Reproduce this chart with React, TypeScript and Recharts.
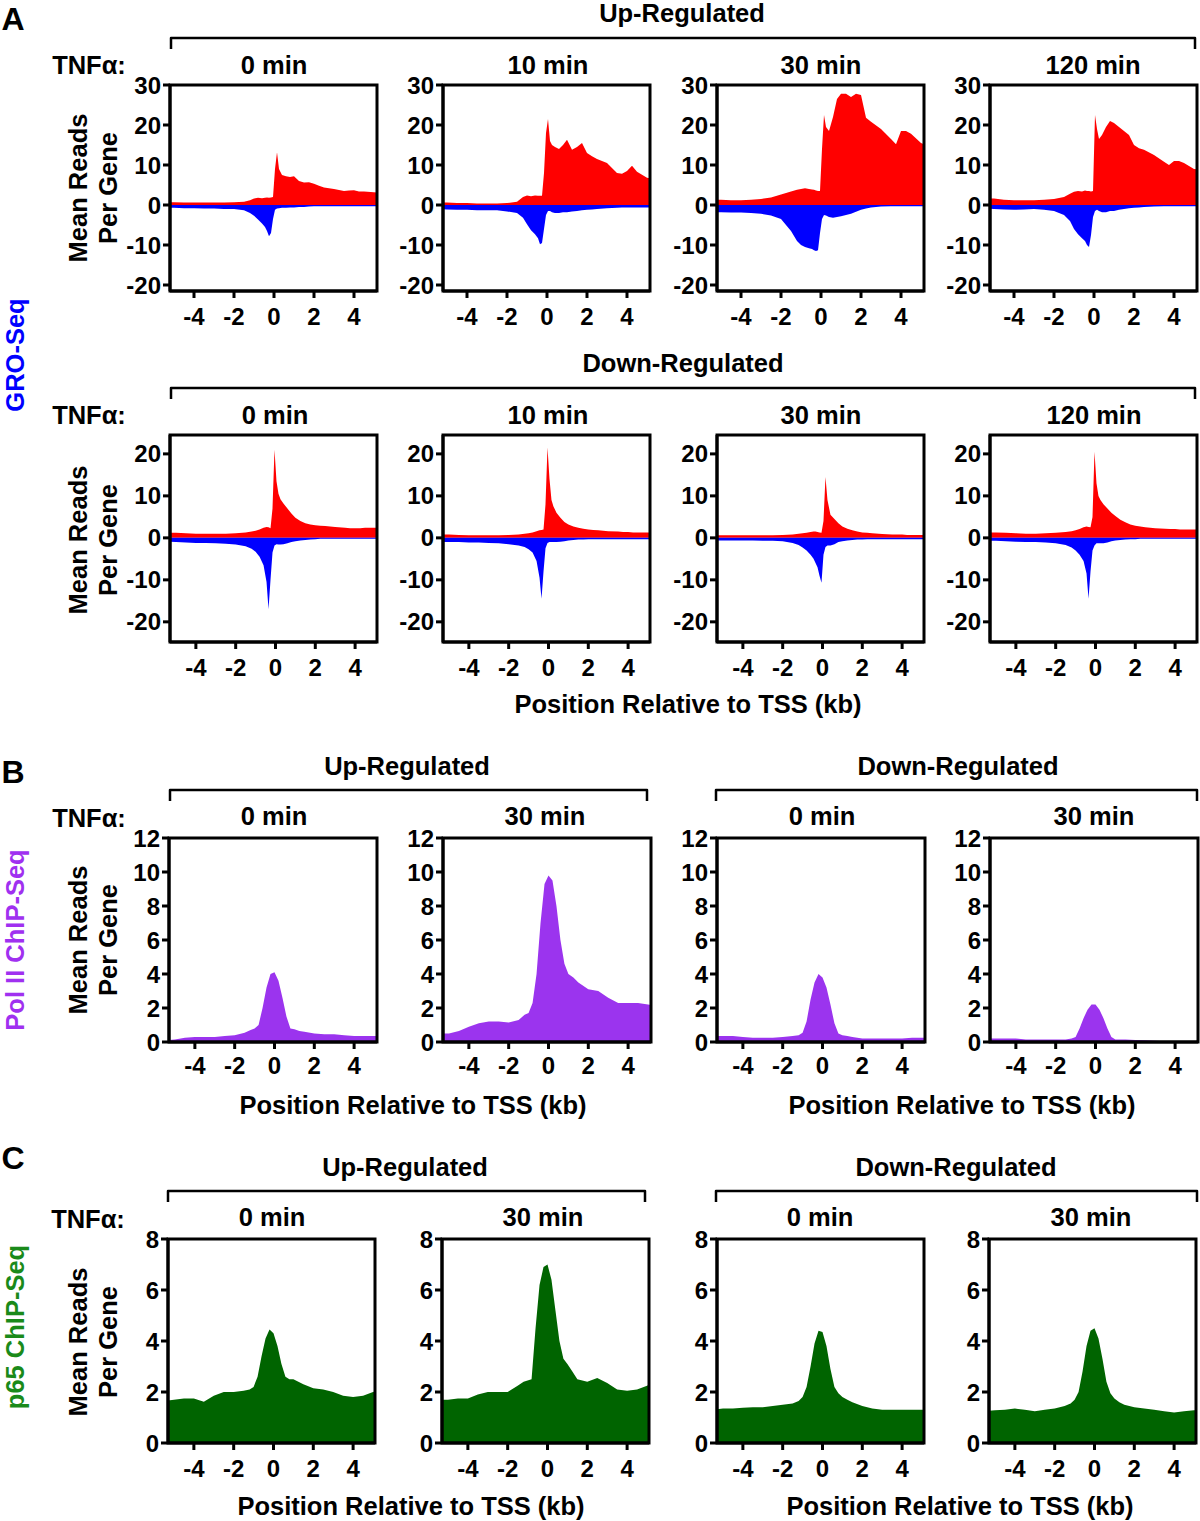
import React from "react";
import { AreaChart, Area, XAxis, YAxis, ReferenceArea } from "recharts";

const FONT = '"Liberation Sans", Arial, Helvetica, sans-serif';

const X_TICKS = [-4, -2, 0, 2, 4];
const GRO_UP_TICKS = [-20, -10, 0, 10, 20, 30];
const GRO_DOWN_TICKS = [-20, -10, 0, 10, 20];
const POL_TICKS = [0, 2, 4, 6, 8, 10, 12];
const P65_TICKS = [0, 2, 4, 6, 8];

// GRO-Seq bins (kb from TSS)
const GRO_X = [-5.5, -5, -4.5, -4, -3.5, -3, -2.5, -2, -1.5, -1.2, -1, -0.8, -0.6, -0.45, -0.35, -0.25, -0.15, -0.05, 0.05, 0.15, 0.25, 0.4, 0.6, 0.8, 1, 1.25, 1.5, 1.75, 2, 2.25, 2.5, 3, 3.5, 3.75, 4, 4.25, 4.5, 5, 5.5];

// up-regulated genes, sense (+) and antisense (-)
const UP_0_SENSE = [0.7, 0.7, 0.6, 0.6, 0.6, 0.6, 0.6, 0.7, 0.8, 1.2, 1.6, 1.8, 1.7, 1.8, 1.9, 1.8, 1.9, 2.0, 9, 13.2, 9, 7.5, 7.2, 7.0, 7.2, 6.0, 5.6, 5.7, 5.3, 4.8, 4.4, 4.0, 3.5, 3.6, 3.7, 3.4, 3.4, 3.2, 2.9];
const UP_0_ANTI = [-0.6, -0.7, -0.8, -0.8, -0.9, -0.9, -1.0, -1.0, -1.3, -2.0, -2.7, -3.6, -4.6, -5.5, -6.5, -7.8, -7.0, -3.5, -1.2, -0.9, -0.8, -0.7, -0.7, -0.6, -0.6, -0.5, -0.5, -0.4, -0.3, -0.3, -0.3, -0.3, -0.3, -0.3, -0.3, -0.3, -0.3, -0.3, -0.3];
const UP_10_SENSE = [0.6, 0.6, 0.5, 0.5, 0.4, 0.4, 0.4, 0.5, 0.8, 2.0, 2.4, 2.2, 2.4, 2.3, 2.3, 2.3, 8, 18, 21.5, 16, 15, 14.5, 14.0, 15.0, 16.3, 13.8, 14.5, 15.5, 13, 12.2, 11.5, 10.5, 8.0, 7.8, 8.5, 9.8, 8.3, 6.8, 6.4];
const UP_10_ANTI = [-1.0, -1.1, -1.2, -1.2, -1.3, -1.3, -1.3, -1.6, -2.0, -3.2, -4.8, -6.3, -7.3, -8.3, -9.8, -9.5, -6.0, -2.5, -1.5, -1.5, -1.8, -2.0, -2.0, -1.8, -1.8, -1.6, -1.5, -1.3, -1.2, -1.1, -1.0, -0.8, -0.7, -0.6, -0.6, -0.6, -0.6, -0.6, -0.6];
const UP_30_SENSE = [1.3, 1.3, 1.2, 1.2, 1.3, 1.5, 1.9, 2.6, 3.4, 3.8, 4.0, 4.2, 4.0, 3.9, 3.8, 3.6, 3.5, 3.5, 14, 22.5, 19.5, 18.5, 22, 26.5, 27.8, 27.8, 27.0, 27.8, 27.5, 21.8, 20.8, 19.0, 16.5, 15.2, 18.5, 18.5, 17.8, 15.5, 14.5];
const UP_30_ANTI = [-1.8, -1.8, -1.9, -1.9, -2.0, -2.2, -2.6, -3.5, -6.5, -9.0, -10.0, -10.5, -10.8, -11.0, -11.3, -11.5, -11.3, -7, -3.5, -2.5, -2.6, -3.0, -3.2, -3.0, -2.8, -2.5, -2.2, -1.7, -1.2, -0.9, -0.6, -0.4, -0.3, -0.3, -0.3, -0.3, -0.3, -0.3, -0.3];
const UP_120_SENSE = [1.6, 1.6, 1.3, 1.2, 1.2, 1.2, 1.3, 1.5, 2.0, 2.8, 3.3, 3.5, 3.4, 3.6, 3.5, 3.5, 3.4, 3.5, 22.5, 19, 16.5, 17.5, 19.5, 21.0, 20.5, 19.5, 18.5, 17.5, 15.0, 14.2, 13.8, 12.5, 10.8, 10.0, 11.0, 11.0, 10.5, 9.0, 8.7];
const UP_120_ANTI = [-0.9, -1.0, -1.1, -1.2, -1.1, -1.0, -1.2, -1.5, -2.5, -4.0, -6.0, -7.3, -8.3, -9.0, -10.0, -10.5, -7.5, -3.0, -1.5, -1.2, -1.5, -1.8, -1.8, -1.5, -1.5, -1.2, -1.0, -0.8, -0.7, -0.6, -0.5, -0.4, -0.3, -0.3, -0.3, -0.3, -0.3, -0.3, -0.3];

// down-regulated genes
const DOWN_0_SENSE = [1.2, 1.2, 1.1, 1.0, 1.0, 1.0, 1.0, 1.1, 1.3, 1.5, 1.7, 2.0, 2.4, 2.6, 2.5, 2.3, 7, 21, 13.5, 10.5, 9.2, 8.2, 7.0, 5.8, 4.8, 4.0, 3.5, 3.2, 3.0, 2.9, 2.8, 2.6, 2.4, 2.3, 2.3, 2.3, 2.4, 2.4, 2.4];
const DOWN_0_ANTI = [-0.9, -1.0, -1.1, -1.2, -1.2, -1.3, -1.4, -1.6, -2.0, -2.6, -3.3, -4.5, -6.5, -10.5, -17, -10, -3.5, -1.8, -1.5, -1.6, -1.6, -1.5, -1.3, -1.0, -0.8, -0.6, -0.5, -0.4, -0.3, -0.2, -0.2, -0.2, -0.2, -0.2, -0.2, -0.2, -0.2, -0.2, -0.2];
const DOWN_10_SENSE = [0.8, 0.8, 0.7, 0.6, 0.6, 0.6, 0.6, 0.7, 0.8, 1.0, 1.1, 1.3, 1.6, 1.8, 1.9, 2.0, 8, 21.5, 14, 9, 7.5, 6.0, 4.8, 3.8, 3.2, 2.7, 2.4, 2.2, 2.0, 1.9, 1.8, 1.6, 1.5, 1.4, 1.4, 1.3, 1.3, 1.3, 1.3];
const DOWN_10_ANTI = [-1.0, -1.0, -1.0, -1.1, -1.1, -1.2, -1.3, -1.5, -1.8, -2.2, -2.7, -3.5, -5.5, -9.5, -14.5, -8, -2.5, -1.2, -1.0, -1.0, -1.0, -1.0, -0.9, -0.8, -0.6, -0.5, -0.4, -0.4, -0.3, -0.3, -0.3, -0.3, -0.3, -0.3, -0.3, -0.3, -0.3, -0.3, -0.3];
const DOWN_30_SENSE = [0.6, 0.6, 0.6, 0.6, 0.6, 0.6, 0.6, 0.7, 0.8, 1.0, 1.1, 1.2, 1.4, 1.5, 1.5, 1.4, 1.3, 1.2, 4, 14.5, 9, 5.5, 4.5, 3.5, 2.7, 2.2, 1.8, 1.5, 1.3, 1.2, 1.1, 0.9, 0.8, 0.8, 0.8, 0.7, 0.7, 0.7, 0.7];
const DOWN_30_ANTI = [-0.6, -0.6, -0.6, -0.6, -0.6, -0.7, -0.7, -0.8, -1.2, -1.7, -2.3, -3.0, -4.0, -5.0, -6.0, -7.0, -9.0, -10.7, -4.0, -2.2, -1.8, -1.8, -1.5, -1.0, -0.8, -0.6, -0.5, -0.4, -0.4, -0.3, -0.3, -0.3, -0.3, -0.3, -0.3, -0.3, -0.3, -0.3, -0.3];
const DOWN_120_SENSE = [1.3, 1.3, 1.2, 1.1, 1.0, 1.0, 1.1, 1.2, 1.4, 1.6, 1.8, 2.1, 2.5, 2.7, 2.6, 2.5, 5, 20.5, 13, 10, 9.0, 8.0, 7.0, 6.0, 5.2, 4.3, 3.7, 3.2, 2.9, 2.7, 2.5, 2.3, 2.2, 2.1, 2.1, 2.0, 2.0, 2.0, 2.0];
const DOWN_120_ANTI = [-0.7, -0.7, -0.8, -0.9, -1.0, -1.0, -1.1, -1.3, -1.7, -2.3, -3.0, -4.0, -5.5, -8.5, -14.5, -8, -3, -1.8, -1.3, -1.3, -1.3, -1.3, -1.1, -0.8, -0.6, -0.5, -0.4, -0.3, -0.3, -0.2, -0.2, -0.2, -0.2, -0.2, -0.2, -0.2, -0.2, -0.2, -0.2];

// ChIP-Seq bins (kb from TSS)
const CHIP_X = [-5.5, -5, -4.5, -4, -3.5, -3, -2.5, -2, -1.5, -1.2, -1, -0.8, -0.6, -0.4, -0.2, 0, 0.2, 0.4, 0.6, 0.8, 1, 1.25, 1.5, 2, 2.5, 3, 3.5, 4, 4.5, 5, 5.5];

const POL_UP_0 = [0.1, 0.15, 0.25, 0.3, 0.3, 0.3, 0.35, 0.4, 0.55, 0.7, 0.8, 1.0, 2.0, 3.2, 4.0, 4.1, 3.6, 2.6, 1.5, 0.8, 0.75, 0.65, 0.6, 0.5, 0.45, 0.45, 0.4, 0.35, 0.35, 0.35, 0.35];
const POL_UP_30 = [0.5, 0.5, 0.65, 0.9, 1.1, 1.2, 1.2, 1.15, 1.3, 1.6, 1.7, 2.3, 4.0, 7.0, 9.3, 9.8, 9.5, 8.0, 6.0, 4.6, 4.0, 3.8, 3.5, 3.1, 3.0, 2.6, 2.3, 2.3, 2.3, 2.2, 2.1];
const POL_DOWN_0 = [0.35, 0.35, 0.35, 0.3, 0.25, 0.25, 0.25, 0.3, 0.35, 0.4, 0.55, 1.2, 2.5, 3.5, 4.0, 3.8, 3.2, 2.2, 1.1, 0.5, 0.4, 0.35, 0.3, 0.2, 0.2, 0.2, 0.2, 0.2, 0.25, 0.25, 0.25];
const POL_DOWN_30 = [0.2, 0.2, 0.2, 0.2, 0.15, 0.15, 0.15, 0.15, 0.15, 0.2, 0.3, 0.8, 1.4, 1.9, 2.2, 2.2, 1.9, 1.4, 0.8, 0.3, 0.15, 0.15, 0.15, 0.12, 0.1, 0.08, 0.05, 0.05, 0.05, 0.05, 0.05];

const P65_UP_0 = [1.65, 1.7, 1.75, 1.75, 1.62, 1.85, 2.0, 2.0, 2.05, 2.1, 2.2, 2.6, 3.4, 4.1, 4.45, 4.3, 3.8, 3.1, 2.6, 2.5, 2.5, 2.4, 2.3, 2.15, 2.1, 2.0, 1.85, 1.8, 1.85, 2.0, 2.1];
const P65_UP_30 = [1.7, 1.7, 1.75, 1.75, 1.9, 2.0, 2.0, 2.0, 2.25, 2.4, 2.45, 2.5, 4.5, 6.2, 6.9, 7.0, 6.4, 5.2, 4.0, 3.3, 3.1, 2.8, 2.5, 2.4, 2.55, 2.35, 2.1, 2.05, 2.1, 2.25, 2.4];
const P65_DOWN_0 = [1.3, 1.35, 1.35, 1.38, 1.4, 1.4, 1.45, 1.5, 1.55, 1.65, 1.8, 2.2, 3.0, 3.9, 4.4, 4.35, 3.8, 2.9, 2.2, 1.95, 1.8, 1.7, 1.6, 1.45, 1.35, 1.3, 1.3, 1.3, 1.3, 1.3, 1.3];
const P65_DOWN_30 = [1.25, 1.28, 1.3, 1.35, 1.3, 1.25, 1.3, 1.35, 1.45, 1.55, 1.7, 2.0, 2.8, 3.8, 4.4, 4.5, 4.1, 3.3, 2.4, 1.95, 1.75, 1.6, 1.5, 1.4, 1.35, 1.3, 1.25, 1.2, 1.25, 1.28, 1.3];

const RED = "#ff0000";
const BLUE = "#0000ff";
const PURPLE = "#9b34ee";
const GREEN = "#006400";

const groRows = (sense: number[], anti: number[]) =>
  GRO_X.map((x, i) => ({ x, s: sense[i], a: anti[i] }));
const chipRows = (vals: number[]) => CHIP_X.map((x, i) => ({ x, s: vals[i] }));

type PlotProps = {
  left: number;
  top: number;
  w: number;
  h: number;
  data: { x: number; s: number; a?: number }[];
  fills: string[];
  xDomain: [number, number];
  yDomain: [number, number];
  yTicks: number[];
  xTickMargin: number;
};

const tickStyle = { fill: "#000", fontSize: 24, fontWeight: 700, fontFamily: FONT };
const blackLine = { stroke: "#000", strokeWidth: 3 };

function Plot({ left, top, w, h, data, fills, xDomain, yDomain, yTicks, xTickMargin }: PlotProps) {
  const YW = 62;
  const XH = 40;
  const MT = 14;
  const MR = 14;
  const keys = fills.length === 2 ? ["s", "a"] : ["s"];
  return (
    <div style={{ position: "absolute", left: left - YW, top: top - MT }}>
      <AreaChart
        width={YW + w + MR}
        height={MT + h + XH}
        data={data}
        margin={{ top: MT, right: MR, left: 0, bottom: 0 }}
      >
        <XAxis
          type="number"
          dataKey="x"
          domain={xDomain}
          ticks={X_TICKS}
          interval={0}
          allowDataOverflow
          height={XH}
          tickSize={7}
          tickMargin={xTickMargin}
          tick={tickStyle}
          axisLine={blackLine}
          tickLine={blackLine}
        />
        <YAxis
          type="number"
          domain={yDomain}
          ticks={yTicks}
          interval={0}
          allowDataOverflow
          width={YW}
          tickSize={7}
          tickMargin={2}
          tick={tickStyle}
          axisLine={blackLine}
          tickLine={blackLine}
        />
        {keys.map((k, i) => (
          <Area
            key={k}
            dataKey={k}
            type="linear"
            stroke="none"
            fill={fills[i]}
            fillOpacity={1}
            isAnimationActive={false}
          />
        ))}
        <ReferenceArea
          x1={xDomain[0]}
          x2={xDomain[1]}
          y1={yDomain[0]}
          y2={yDomain[1]}
          fill="none"
          fillOpacity={0}
          stroke="#000"
          strokeWidth={3}
          ifOverflow="visible"
          zIndex={600}
        />
      </AreaChart>
    </div>
  );
}

function Txt({ x, y, children, size = 25.5, color = "#000", rotate = false }: any) {
  return (
    <div
      style={{
        position: "absolute",
        left: x,
        top: y,
        transform: `translate(-50%, -50%)${rotate ? " rotate(-90deg)" : ""}`,
        fontSize: size,
        fontWeight: 700,
        color,
        whiteSpace: "nowrap",
        lineHeight: "30px",
        textAlign: "center",
        fontFamily: FONT,
      }}
    >
      {children}
    </div>
  );
}

const AXIS_TITLE = "Position Relative to TSS (kb)";

export default function App() {
  const rowA1 = { top: 85, h: 206, w: 207, yDomain: [-21.5, 30] as [number, number], yTicks: GRO_UP_TICKS, xDomain: [-5.2, 5.15] as [number, number], xTickMargin: 10 };
  const rowA2 = { top: 435, h: 207, w: 207, yDomain: [-24.8, 24.5] as [number, number], yTicks: GRO_DOWN_TICKS, xDomain: [-5.3, 5.1] as [number, number], xTickMargin: 10 };
  const rowB = { top: 838, h: 204, w: 208, yDomain: [0, 12] as [number, number], yTicks: POL_TICKS, xDomain: [-5.3, 5.15] as [number, number], xTickMargin: 8 };
  const rowC = { top: 1239, h: 204, w: 207, yDomain: [0, 8] as [number, number], yTicks: P65_TICKS, xDomain: [-5.3, 5.1] as [number, number], xTickMargin: 10 };
  const lefts = [170, 443, 717, 990];

  const groUp = [groRows(UP_0_SENSE, UP_0_ANTI), groRows(UP_10_SENSE, UP_10_ANTI), groRows(UP_30_SENSE, UP_30_ANTI), groRows(UP_120_SENSE, UP_120_ANTI)];
  const groDown = [groRows(DOWN_0_SENSE, DOWN_0_ANTI), groRows(DOWN_10_SENSE, DOWN_10_ANTI), groRows(DOWN_30_SENSE, DOWN_30_ANTI), groRows(DOWN_120_SENSE, DOWN_120_ANTI)];
  const pol = [chipRows(POL_UP_0), chipRows(POL_UP_30), chipRows(POL_DOWN_0), chipRows(POL_DOWN_30)];
  const p65 = [chipRows(P65_UP_0), chipRows(P65_UP_30), chipRows(P65_DOWN_0), chipRows(P65_DOWN_30)];

  const brackets = [
    [171, 1195, 38],
    [171, 1195, 388],
    [170, 647, 790],
    [716, 1197, 790],
    [168, 645, 1191],
    [716, 1197, 1191],
  ];

  return (
    <div style={{ position: "absolute", left: 0, top: 0, width: 1200, height: 1521, background: "#fff", fontFamily: FONT }}>
      <svg width={1200} height={1521} style={{ position: "absolute", left: 0, top: 0 }}>
        {brackets.map(([x1, x2, y], i) => (
          <path key={i} d={`M${x1},${y + 11} V${y} H${x2} V${y + 11}`} fill="none" stroke="#000" strokeWidth={2.5} strokeLinejoin="round" />
        ))}
      </svg>

      {/* panel A */}
      <Txt x={13} y={19} size={32}>A</Txt>
      <Txt x={682} y={13}>Up-Regulated</Txt>
      <Txt x={683} y={363}>Down-Regulated</Txt>
      <Txt x={89} y={65}>TNFα:</Txt>
      <Txt x={89} y={415}>TNFα:</Txt>
      {["0 min", "10 min", "30 min", "120 min"].map((t, i) => (
        <Txt key={"a1" + i} x={[274, 548, 821, 1093][i]} y={65}>{t}</Txt>
      ))}
      {["0 min", "10 min", "30 min", "120 min"].map((t, i) => (
        <Txt key={"a2" + i} x={[275, 548, 821, 1094][i]} y={415}>{t}</Txt>
      ))}
      <Txt x={93} y={188} rotate>Mean Reads<br />Per Gene</Txt>
      <Txt x={93} y={540} rotate>Mean Reads<br />Per Gene</Txt>
      <Txt x={15} y={355} rotate color={BLUE}>GRO-Seq</Txt>
      <Txt x={688} y={704}>{AXIS_TITLE}</Txt>
      {groUp.map((d, i) => (
        <Plot key={"u" + i} left={lefts[i]} {...rowA1} data={d} fills={[RED, BLUE]} />
      ))}
      {groDown.map((d, i) => (
        <Plot key={"d" + i} left={lefts[i]} {...rowA2} data={d} fills={[RED, BLUE]} />
      ))}

      {/* panel B */}
      <Txt x={13} y={772} size={32}>B</Txt>
      <Txt x={407} y={766}>Up-Regulated</Txt>
      <Txt x={958} y={766}>Down-Regulated</Txt>
      <Txt x={89} y={818}>TNFα:</Txt>
      {["0 min", "30 min", "0 min", "30 min"].map((t, i) => (
        <Txt key={"b" + i} x={[274, 545, 822, 1094][i]} y={816}>{t}</Txt>
      ))}
      <Txt x={93} y={940} rotate>Mean Reads<br />Per Gene</Txt>
      <Txt x={15} y={940} rotate color="#a030f0">Pol II ChIP-Seq</Txt>
      <Txt x={413} y={1105}>{AXIS_TITLE}</Txt>
      <Txt x={962} y={1105}>{AXIS_TITLE}</Txt>
      {pol.map((d, i) => (
        <Plot key={"p" + i} left={[169, 443, 717, 990][i]} {...rowB} data={d} fills={[PURPLE]} />
      ))}

      {/* panel C */}
      <Txt x={13} y={1158} size={32}>C</Txt>
      <Txt x={405} y={1167}>Up-Regulated</Txt>
      <Txt x={956} y={1167}>Down-Regulated</Txt>
      <Txt x={88} y={1219}>TNFα:</Txt>
      {["0 min", "30 min", "0 min", "30 min"].map((t, i) => (
        <Txt key={"c" + i} x={[272, 543, 820, 1091][i]} y={1217}>{t}</Txt>
      ))}
      <Txt x={93} y={1342} rotate>Mean Reads<br />Per Gene</Txt>
      <Txt x={15} y={1327} rotate color="#1a8a1a">p65 ChIP-Seq</Txt>
      <Txt x={411} y={1506}>{AXIS_TITLE}</Txt>
      <Txt x={960} y={1506}>{AXIS_TITLE}</Txt>
      {p65.map((d, i) => (
        <Plot key={"n" + i} left={[168, 442, 717, 989][i]} {...rowC} data={d} fills={[GREEN]} />
      ))}
    </div>
  );
}
